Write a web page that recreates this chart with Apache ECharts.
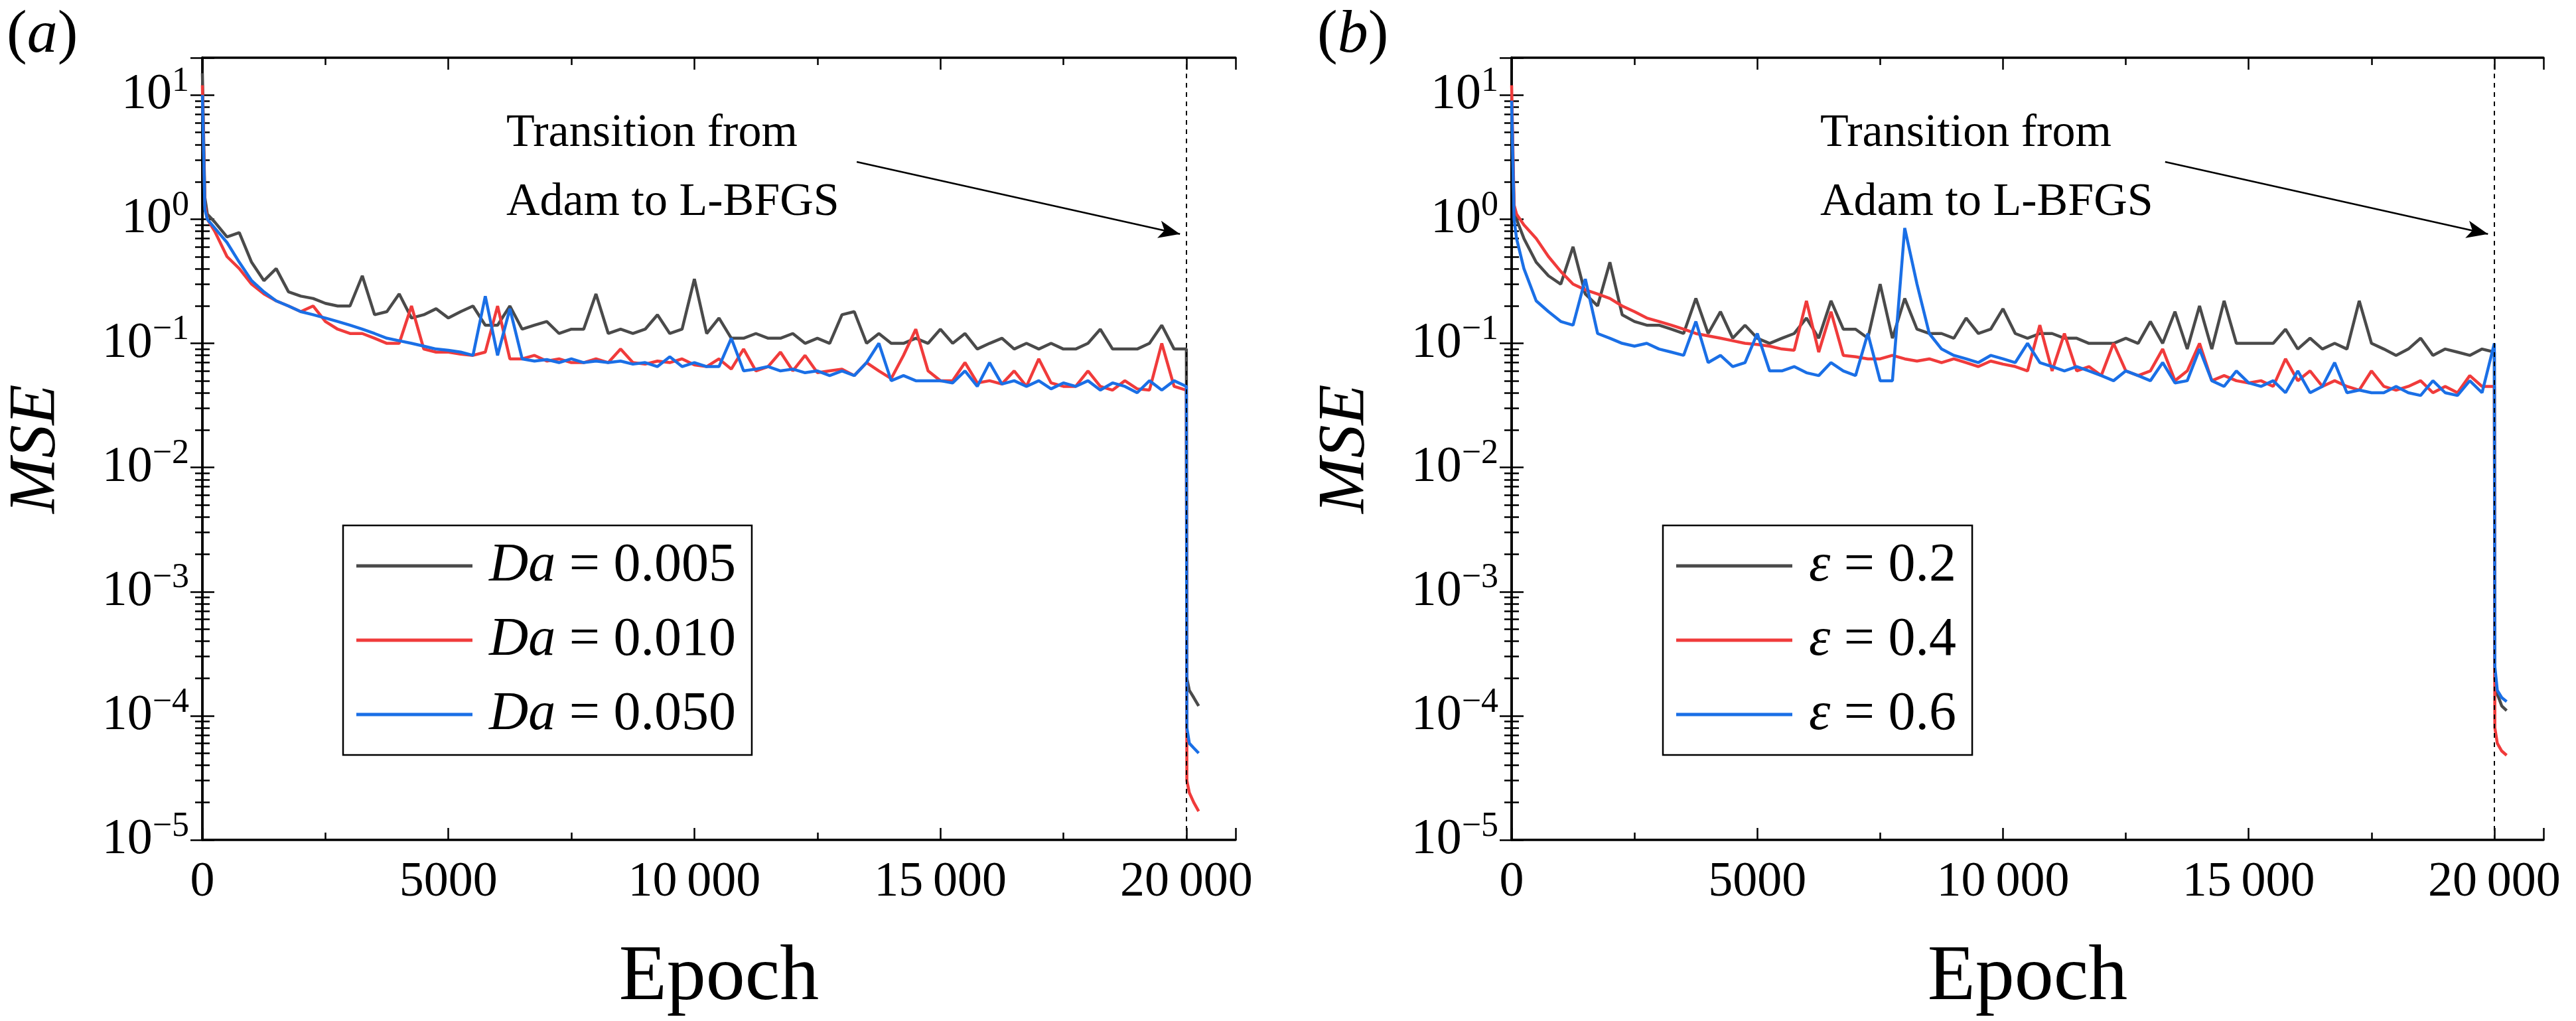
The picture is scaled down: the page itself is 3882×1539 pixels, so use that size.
<!DOCTYPE html>
<html>
<head>
<meta charset="utf-8">
<script src="https://cdn.jsdelivr.net/npm/echarts@6/dist/echarts.min.js"></script>
<style>html,body{margin:0;background:#fff}#chart{width:3882px;height:1539px}</style>
</head>
<body>
<div id="chart"></div>
<script>
// epochs: head (0,50,100), main every 250 from 250 to 20000, tail after L-BFGS switch
var headEpochs = [0, 50, 100];
var mainEpochs = [];
for (var e = 250; e <= 20000; e += 250) mainEpochs.push(e);
var tailEpochs = [20010, 20060, 20150, 20250];

// panel (a)
var da005 = [15, 1.5, 1.1,
  0.95,0.72,0.78,0.45,0.32,0.40,0.26,0.24,0.23,0.21,
  0.2,0.2,0.35,0.17,0.18,0.25,0.16,0.17,0.19,0.16,
  0.18,0.2,0.14,0.14,0.2,0.13,0.14,0.15,0.12,0.13,
  0.13,0.25,0.12,0.13,0.12,0.13,0.17,0.12,0.13,0.33,
  0.12,0.16,0.11,0.11,0.12,0.11,0.11,0.12,0.1,0.11,
  0.1,0.17,0.18,0.1,0.12,0.1,0.1,0.11,0.1,0.13,
  0.1,0.12,0.09,0.1,0.11,0.09,0.1,0.09,0.1,0.09,
  0.09,0.1,0.13,0.09,0.09,0.09,0.1,0.14,0.09,0.09,
  2e-4,1.6e-4,1.4e-4,1.2e-4];
var da010 = [12, 1.3, 1.0,
  0.8,0.5,0.4,0.3,0.25,0.22,0.2,0.18,0.2,0.15,
  0.13,0.12,0.12,0.11,0.1,0.1,0.2,0.09,0.085,0.085,
  0.082,0.08,0.085,0.2,0.075,0.075,0.08,0.072,0.075,0.07,
  0.07,0.075,0.07,0.09,0.07,0.068,0.072,0.07,0.075,0.067,
  0.065,0.075,0.062,0.09,0.06,0.065,0.085,0.06,0.08,0.058,
  0.06,0.062,0.055,0.07,0.06,0.052,0.08,0.13,0.06,0.05,
  0.05,0.07,0.048,0.05,0.047,0.06,0.045,0.075,0.048,0.045,
  0.045,0.06,0.045,0.042,0.05,0.043,0.042,0.1,0.045,0.042,
  3e-5,2.4e-5,2e-5,1.7e-5];
var da050 = [10, 1.2, 1.0,
  0.85,0.65,0.45,0.32,0.26,0.22,0.2,0.18,0.17,0.16,
  0.15,0.14,0.13,0.12,0.11,0.105,0.1,0.095,0.09,0.088,
  0.085,0.08,0.24,0.08,0.19,0.075,0.072,0.074,0.07,0.075,
  0.07,0.072,0.07,0.072,0.068,0.07,0.065,0.078,0.065,0.07,
  0.065,0.065,0.11,0.06,0.062,0.065,0.06,0.062,0.058,0.06,
  0.055,0.06,0.055,0.07,0.1,0.05,0.055,0.05,0.05,0.05,
  0.048,0.06,0.045,0.07,0.047,0.05,0.045,0.05,0.043,0.048,
  0.045,0.05,0.042,0.048,0.045,0.04,0.05,0.042,0.05,0.045,
  8e-5,6e-5,5.5e-5,5e-5];

// panel (b)
var eps02 = [8, 1.2, 1.0,
  0.7,0.45,0.35,0.3,0.6,0.25,0.2,0.45,0.17,0.15,
  0.14,0.14,0.13,0.12,0.23,0.12,0.18,0.11,0.14,0.11,
  0.1,0.11,0.12,0.16,0.11,0.22,0.13,0.13,0.11,0.3,
  0.11,0.23,0.13,0.12,0.12,0.11,0.16,0.12,0.13,0.19,
  0.12,0.11,0.12,0.12,0.11,0.11,0.1,0.1,0.1,0.11,
  0.1,0.15,0.1,0.18,0.09,0.2,0.09,0.22,0.1,0.1,
  0.1,0.1,0.13,0.09,0.11,0.09,0.1,0.09,0.22,0.1,
  0.09,0.08,0.09,0.11,0.08,0.09,0.085,0.08,0.09,0.085,
  2e-4,1.5e-4,1.2e-4,1.1e-4];
var eps04 = [12, 1.3, 1.1,
  0.9,0.7,0.5,0.38,0.3,0.27,0.25,0.23,0.2,0.18,
  0.16,0.15,0.14,0.13,0.12,0.115,0.11,0.105,0.1,0.098,
  0.095,0.09,0.088,0.22,0.085,0.18,0.08,0.078,0.075,0.075,
  0.08,0.075,0.072,0.075,0.07,0.075,0.07,0.065,0.072,0.068,
  0.065,0.06,0.14,0.06,0.12,0.06,0.065,0.055,0.1,0.06,
  0.055,0.06,0.09,0.05,0.06,0.1,0.05,0.055,0.05,0.048,
  0.05,0.045,0.075,0.05,0.06,0.045,0.05,0.045,0.042,0.06,
  0.045,0.042,0.045,0.05,0.04,0.045,0.04,0.055,0.045,0.045,
  8e-5,6e-5,5.2e-5,4.8e-5];
var eps06 = [9, 1.0, 0.7,
  0.4,0.22,0.18,0.15,0.14,0.33,0.12,0.11,0.1,0.095,
  0.1,0.09,0.085,0.08,0.15,0.07,0.08,0.065,0.07,0.12,
  0.06,0.06,0.065,0.058,0.055,0.07,0.06,0.055,0.12,0.05,
  0.05,0.85,0.3,0.12,0.09,0.08,0.075,0.07,0.08,0.075,
  0.07,0.1,0.07,0.065,0.06,0.065,0.06,0.055,0.05,0.06,
  0.055,0.05,0.07,0.048,0.05,0.09,0.05,0.045,0.06,0.048,
  0.045,0.05,0.04,0.06,0.04,0.045,0.07,0.04,0.042,0.04,
  0.04,0.045,0.04,0.038,0.05,0.04,0.038,0.05,0.04,0.1,
  2.5e-4,1.6e-4,1.4e-4,1.3e-4];

var allEpochs = headEpochs.concat(mainEpochs, tailEpochs);
function pairs(vals) {
  return vals.map(function (v, i) { return [allEpochs[i], v]; });
}

var FONT = '"Liberation Serif", "DejaVu Serif", serif';
var GRAY = '#4a4a4a', RED = '#f03b3b', BLUE = '#1a6fe6';

var chart = echarts.init(document.getElementById('chart'));

var grids = [
  {left: 305, top: 87, width: 1557, height: 1208},
  {left: 2278, top: 87, width: 1555, height: 1208}
];

var xAxes = [], yAxes = [];
[0, 1].forEach(function (g) {
  xAxes.push({
    type: 'value', gridIndex: g, min: 0, max: 21000, interval: 5000,
    axisLine: {lineStyle: {color: '#000', width: 3.5}},
    axisTick: {inside: true, length: 18, lineStyle: {color: '#000', width: 2.5}},
    minorTick: {show: true, splitNumber: 2, length: 11, lineStyle: {color: '#000', width: 2.5}},
    splitLine: {show: false},
    axisLabel: {
      fontFamily: FONT, fontSize: 74, color: '#000', margin: 28, showMaxLabel: false,
      formatter: function (v) { return v >= 10000 ? String(v).replace(/(\d{2})(\d{3})/, '$1\u2009$2') : String(v); }
    },
    name: 'Epoch', nameLocation: 'middle', nameGap: 150,
    nameTextStyle: {fontFamily: FONT, fontSize: 118, color: '#000'}
  });
  xAxes.push({
    type: 'value', gridIndex: g, position: 'top', min: 0, max: 21000, interval: 5000,
    axisLine: {lineStyle: {color: '#000', width: 3.5}},
    axisTick: {inside: true, length: 18, lineStyle: {color: '#000', width: 2.5}},
    minorTick: {show: true, splitNumber: 2, length: 11, lineStyle: {color: '#000', width: 2.5}},
    splitLine: {show: false}, axisLabel: {show: false}
  });
  var yBase = {
    type: 'log', logBase: 10, gridIndex: g, min: 1e-5, max: 20,
    axisLine: {lineStyle: {color: '#000', width: 3.5}},
    axisTick: {inside: true, length: 18, lineStyle: {color: '#000', width: 2.5}},
    minorTick: {show: true, splitNumber: 9, length: 11, lineStyle: {color: '#000', width: 2.5}},
    splitLine: {show: false}
  };
  yAxes.push(Object.assign({}, yBase, {
    axisLabel: {
      color: '#000', margin: 20, showMaxLabel: false,
      formatter: function (v) {
        var p = Math.round(Math.log10(v));
        return '{b|10}{s|' + (p < 0 ? '\u2212' + (-p) : p) + '}';
      },
      rich: {
        b: {fontFamily: FONT, fontSize: 76, color: '#000'},
        s: {fontFamily: FONT, fontSize: 52, color: '#000', padding: [0, 0, 40, 0]}
      }
    },
    name: 'MSE', nameLocation: 'middle', nameGap: 200, nameRotate: 90,
    nameTextStyle: {fontFamily: FONT, fontSize: 100, fontStyle: 'italic', color: '#000'}
  }));
  yAxes.push(Object.assign({}, yBase, {position: 'right', axisLabel: {show: false}}));
});

function line(name, vals, color, g) {
  return {
    name: name, type: 'line', xAxisIndex: g * 2, yAxisIndex: g * 2,
    data: pairs(vals), showSymbol: false, symbol: 'none',
    lineStyle: {color: color, width: 4.5}, itemStyle: {color: color}, z: 3
  };
}
function transition(g) {
  return {
    type: 'line', xAxisIndex: g * 2, yAxisIndex: g * 2, data: [], silent: true,
    markLine: {
      silent: true, symbol: 'none', animation: false, label: {show: false},
      lineStyle: {color: '#000', type: [7, 7], width: 2},
      data: [
        {xAxis: 20000},
        [{coord: [13300, 2.9], symbol: 'none'},
         {coord: [19870, 0.76], symbol: 'arrow', symbolSize: [20, 32],
          lineStyle: {type: 'solid', width: 2.5}}]
      ]
    }
  };
}

var series = [
  line('da005', da005, GRAY, 0), line('da010', da010, RED, 0), line('da050', da050, BLUE, 0),
  line('eps02', eps02, GRAY, 1), line('eps04', eps04, RED, 1), line('eps06', eps06, BLUE, 1),
  transition(0), transition(1)
];

function legend(names, left, labels) {
  return {
    data: names, orient: 'vertical', left: left, top: 792, icon: 'rect',
    itemWidth: 175, itemHeight: 5, itemGap: 30, padding: [20, 24, 20, 20],
    borderColor: '#000', borderWidth: 2.5,
    textStyle: {fontFamily: FONT, fontSize: 82, color: '#000', padding: [0, 0, 0, 20], rich: {
      i: {fontFamily: FONT, fontSize: 82, fontStyle: 'italic', color: '#000'}
    }},
    formatter: function (n) { return labels[names.indexOf(n)]; }
  };
}

var annot = function (x) {
  return {type: 'text', left: x, top: 150, style: {
    text: 'Transition from\nAdam to L-BFGS', font: '70px ' + FONT, fill: '#000', lineHeight: 104
  }};
};

chart.setOption({
  animation: false,
  backgroundColor: '#fff',
  grid: grids,
  xAxis: xAxes,
  yAxis: yAxes,
  series: series,
  legend: [
    legend(['da005', 'da010', 'da050'], 517,
      ['{i|Da} = 0.005', '{i|Da} = 0.010', '{i|Da} = 0.050']),
    legend(['eps02', 'eps04', 'eps06'], 2506,
      ['{i|\u03b5} = 0.2', '{i|\u03b5} = 0.4', '{i|\u03b5} = 0.6'])
  ],
  graphic: [
    annot(763), annot(2743),
    {type: 'text', left: 10, top: 8, style: {rich: {i: {font: 'italic 92px ' + FONT}, n: {font: '92px ' + FONT}},
      text: '{n|(}{i|a}{n|)}', fill: '#000'}},
    {type: 'text', left: 1985, top: 8, style: {rich: {i: {font: 'italic 92px ' + FONT}, n: {font: '92px ' + FONT}},
      text: '{n|(}{i|b}{n|)}', fill: '#000'}}
  ]
});
</script>
</body>
</html>
